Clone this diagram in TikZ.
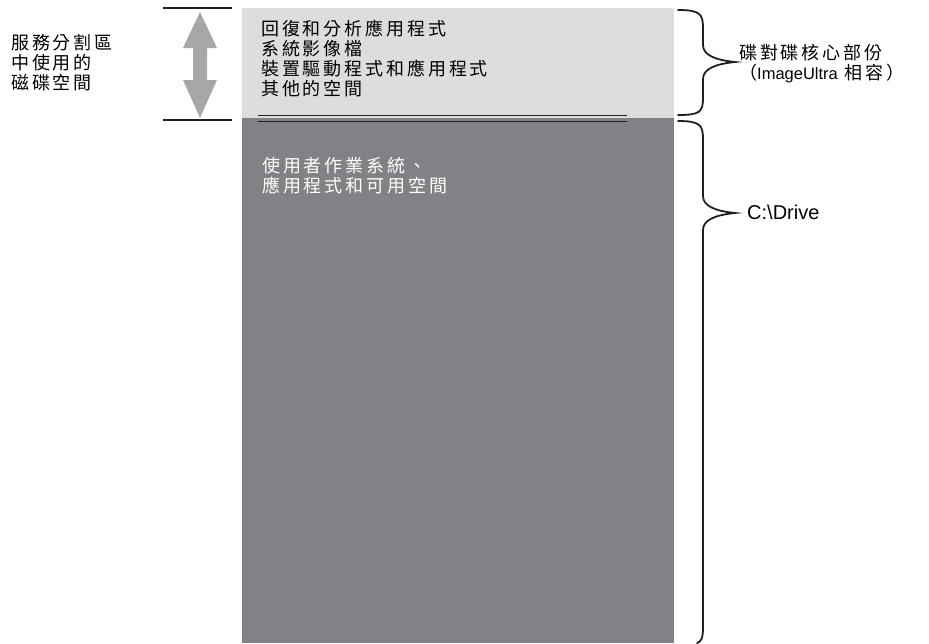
\documentclass[tikz,border=0pt]{standalone}
\usepackage{fontspec}
\newfontfamily\cjk[LetterSpace=16]{Noto Sans CJK TC}
\newfontfamily\lat{Liberation Sans}
\definecolor{lightbox}{HTML}{DCDDDF}
\definecolor{darkbox}{HTML}{818286}
\definecolor{arrowgray}{HTML}{A6A7A9}
\definecolor{ink}{HTML}{231F20}
\begin{document}
\begin{tikzpicture}[x=1pt,y=-1pt,
  cjktext/.style={inner sep=0pt,anchor=north west,align=left,font=\cjk\fontsize{18}{20}\selectfont},
  bracepath/.style={draw=ink,line width=1.8pt,line cap=round},
  tick/.style={draw=ink,line width=1.2pt},
  sepline/.style={draw=ink,line width=1.4pt}]
\useasboundingbox (0,0) rectangle (929,643);
% boxes
\fill[lightbox] (242,8) rectangle (674,118);
\fill[darkbox] (242,118) rectangle (674,643);
\path[sepline] (258,115.5) -- (627,115.5);
\path[sepline] (258,121.5) -- (627,121.5);
% left ticks and arrow
\path[tick] (163,8) -- (232,8);
\path[tick] (163,120) -- (232,120);
\fill[arrowgray] (200,12) -- (217,48) -- (207,48) -- (207,80) -- (217,80) -- (200,118)
  -- (183,80) -- (193,80) -- (193,48) -- (183,48) -- cycle;
% texts
\node[cjktext] (lefttext) at (11,34) {服務分割區\\中使用的\\磁碟空間};
\node[cjktext] (toptext) at (261,20) {回復和分析應用程式\\系統影像檔\\裝置驅動程式和應用程式\\其他的空間};
\node[cjktext,text=white] (bottomtext) at (262,157) {使用者作業系統、\\應用程式和可用空間};
\node[cjktext] (coretext) at (739,44) {碟對碟核心部份\\（{\lat\fontsize{16.5}{20}\selectfont ImageUltra} 相容）};
\node[inner sep=0pt,anchor=west,font=\lat\fontsize{20}{24}\selectfont] (drivetext) at (747,212) {C:\textbackslash Drive};
% braces
\path[bracepath] (678,10) .. controls (700,10) and (703,14) .. (703,28) -- (703,45)
  .. controls (703,55) and (715,60) .. (735,62)
  .. controls (715,64) and (703,69) .. (703,79) -- (703,98)
  .. controls (703,112) and (700,115) .. (678,115);
\path[bracepath] (678,121) .. controls (700,121) and (703,125) .. (703,139) -- (703,196)
  .. controls (703,206) and (715,211) .. (735,213)
  .. controls (715,215) and (703,220) .. (703,230) -- (703,628)
  .. controls (703,638) and (701,642) .. (697,643);
\end{tikzpicture}
\end{document}
